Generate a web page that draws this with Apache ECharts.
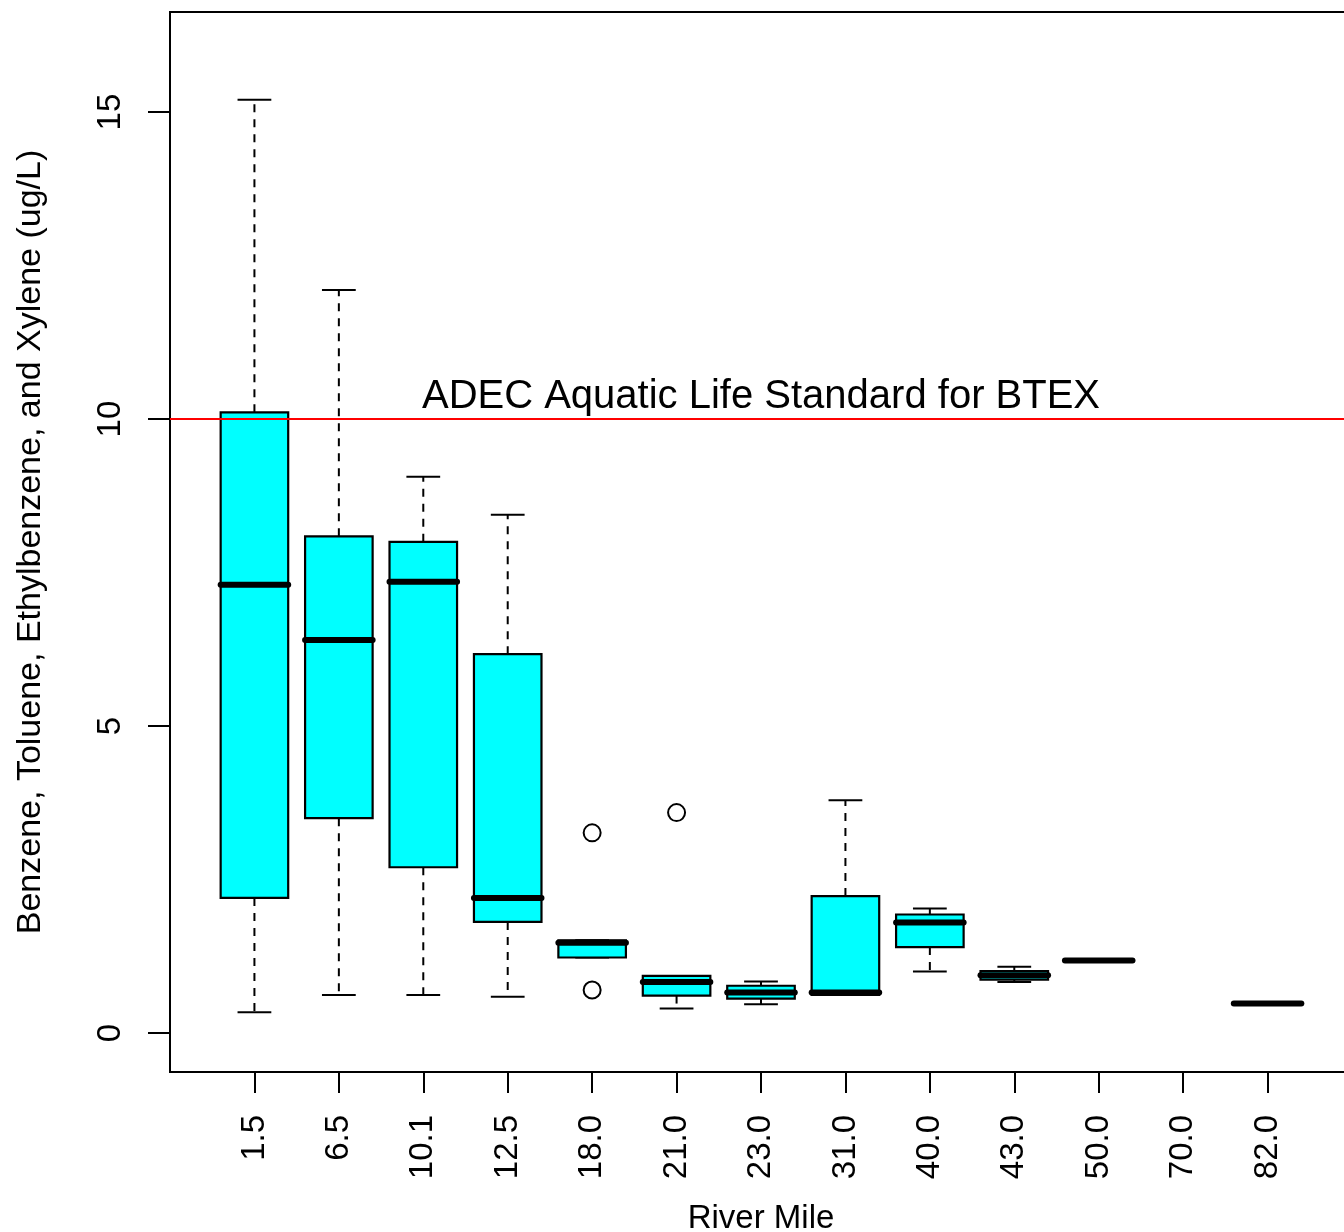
<!DOCTYPE html>
<html>
<head>
<meta charset="utf-8">
<script src="https://cdn.jsdelivr.net/npm/echarts@6/dist/echarts.min.js"></script>
<style>
  html, body { margin: 0; padding: 0; background: #fff; }
  #chart { width: 1344px; height: 1232px; }
</style>
</head>
<body>
<div id="chart"></div>
<script>
// river mile groups, one box each (70.0 has no samples)
var cats = ['1.5', '6.5', '10.1', '12.5', '18.0', '21.0', '23.0', '31.0', '40.0', '43.0', '50.0', '70.0', '82.0'];
var whiskerLow  = [0.34, 0.62, 0.62, 0.59, 1.23, 0.40, 0.47, 0.62, 1.00, 0.83, 1.18, null, 0.48];
var q1          = [2.20, 3.50, 2.70, 1.81, 1.23, 0.61, 0.56, 0.62, 1.40, 0.87, 1.18, null, 0.48];
var median      = [7.30, 6.40, 7.35, 2.20, 1.47, 0.83, 0.66, 0.66, 1.80, 0.94, 1.18, null, 0.48];
var q3          = [10.11, 8.09, 8.00, 6.17, 1.51, 0.93, 0.77, 2.23, 1.93, 1.01, 1.18, null, 0.48];
var whiskerHigh = [15.20, 12.10, 9.06, 8.44, 1.51, 0.93, 0.84, 3.79, 2.03, 1.08, 1.18, null, 0.48];
// outliers: [group position (1-based), value]
var outliers = [[5, 3.26], [5, 0.70], [6, 3.59]];
var yTicks = [0, 5, 10, 15];
var standard = 10;
var standardText = 'ADEC Aquatic Life Standard for BTEX';

var FONT = '"Liberation Sans", Arial, Helvetica, sans-serif';
var positions = cats.map(function (c, i) { return i + 1; });

var boxData = [];
cats.forEach(function (c, i) {
  if (median[i] == null) return;
  boxData.push([i + 1, whiskerLow[i], q1[i], median[i], q3[i], whiskerHigh[i]]);
});

function renderBox(params, api) {
  var x = api.value(0);
  var lo = api.value(1), b1 = api.value(2), md = api.value(3), b3 = api.value(4), hi = api.value(5);
  var w = api.size([0.8, 0])[0];
  var cx = api.coord([x, md])[0];
  var y = function (v) { return api.coord([x, v])[1]; };
  var dashed = { stroke: '#000', lineWidth: 2, lineDash: [8, 7] };
  var solid = { stroke: '#000', lineWidth: 2 };
  return {
    type: 'group',
    children: [
      { type: 'line', shape: { x1: cx, y1: y(b3), x2: cx, y2: y(hi) }, style: dashed },
      { type: 'line', shape: { x1: cx, y1: y(b1), x2: cx, y2: y(lo) }, style: dashed },
      { type: 'line', shape: { x1: cx - w / 4, y1: y(hi), x2: cx + w / 4, y2: y(hi) }, style: solid },
      { type: 'line', shape: { x1: cx - w / 4, y1: y(lo), x2: cx + w / 4, y2: y(lo) }, style: solid },
      { type: 'rect', shape: { x: cx - w / 2, y: y(b3), width: w, height: y(b1) - y(b3) },
        style: { fill: '#00ffff', stroke: '#000', lineWidth: 2.2 } },
      { type: 'line', shape: { x1: cx - w / 2, y1: y(md), x2: cx + w / 2, y2: y(md) },
        style: { stroke: '#000', lineWidth: 6, lineCap: 'round' } }
    ]
  };
}

var chart = echarts.init(document.getElementById('chart'));
var option = {
  backgroundColor: '#fff',
  animation: false,
  grid: {
    left: 170, top: 12, width: 1182, height: 1060,
    outerBoundsMode: 'none', containLabel: false,
    show: true, borderColor: '#000', borderWidth: 2, backgroundColor: '#fff'
  },
  xAxis: {
    type: 'value', min: 0, max: 14,
    name: 'River Mile', nameLocation: 'middle', nameGap: 130,
    nameTextStyle: { fontFamily: FONT, fontSize: 33, color: '#000' },
    axisLine: { show: false, onZero: false },
    splitLine: { show: false },
    axisTick: { show: true, length: 21, customValues: positions, lineStyle: { color: '#000', width: 2 } },
    axisLabel: {
      customValues: positions, rotate: 90, margin: 43,
      fontFamily: FONT, fontSize: 33, color: '#000',
      formatter: function (v) { return cats[Math.round(v) - 1] || ''; }
    }
  },
  yAxis: {
    type: 'value', min: -0.635, max: 16.63,
    name: 'Benzene, Toluene, Ethylbenzene, and Xylene (ug/L)',
    nameLocation: 'middle', nameGap: 122,
    nameTextStyle: { fontFamily: FONT, fontSize: 34, color: '#000' },
    axisLine: { show: false, onZero: false },
    splitLine: { show: false },
    axisTick: { show: true, length: 22, customValues: yTicks, lineStyle: { color: '#000', width: 2 } },
    axisLabel: {
      customValues: yTicks, rotate: 90, margin: 43,
      fontFamily: FONT, fontSize: 33, color: '#000'
    }
  },
  series: [
    {
      type: 'custom',
      renderItem: renderBox,
      data: boxData,
      encode: { x: 0, y: [1, 2, 3, 4, 5] },
      markLine: {
        silent: true, symbol: 'none', label: { show: false },
        lineStyle: { color: '#ff0000', width: 2, type: 'solid', opacity: 1 },
        data: [{ yAxis: standard }]
      }
    },
    {
      type: 'scatter',
      data: outliers,
      symbol: 'circle', symbolSize: 17,
      itemStyle: { color: 'rgba(0,0,0,0)', borderColor: '#000', borderWidth: 2, opacity: 1 }
    },
    {
      type: 'scatter',
      data: [[7, 10.36]],
      symbolSize: 0,
      itemStyle: { opacity: 1 },
      label: {
        show: true, position: 'inside', formatter: standardText,
        fontFamily: FONT, fontSize: 40, color: '#000', textBorderWidth: 0
      }
    }
  ]
};
chart.setOption(option);
</script>
</body>
</html>
